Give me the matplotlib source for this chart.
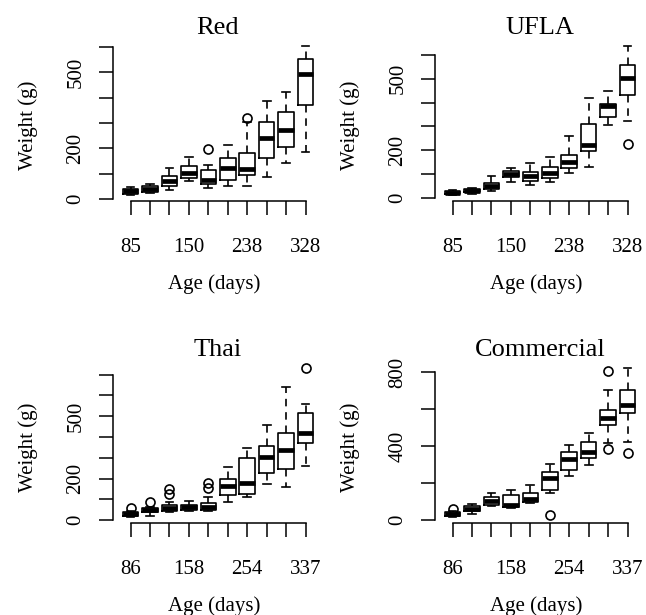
import matplotlib
matplotlib.use("Agg")
import matplotlib.pyplot as plt

plt.rcParams["font.family"] = ["Liberation Serif", "DejaVu Serif"]

# ---------------- data ----------------
titles = ["Red", "UFLA", "Thai", "Commercial"]

ages_red = [85, 106, 127, 150, 180, 209, 238, 268, 298, 328]
ages_ufla = [85, 106, 127, 150, 180, 209, 238, 268, 298, 328]
ages_thai = [86, 110, 134, 158, 190, 222, 254, 282, 310, 337]
ages_comm = [86, 110, 134, 158, 190, 222, 254, 282, 310, 337]

red_lo = [15, 22, 35, 70, 42, 52, 52, 88, 140, 184]
red_q1 = [20, 28, 52, 82, 58, 76, 93, 163, 205, 372]
red_med = [30, 40, 72, 103, 74, 122, 117, 242, 272, 496]
red_q3 = [40, 52, 92, 130, 115, 160, 182, 306, 343, 554]
red_hi = [48, 60, 122, 165, 132, 215, 305, 387, 422, 605]
red_out = [[], [], [], [], [198], [], [320], [], [], []]

ufla_lo = [12, 18, 30, 68, 55, 68, 104, 129, 306, 321]
ufla_q1 = [15, 23, 36, 88, 72, 83, 126, 199, 338, 431]
ufla_med = [22, 30, 48, 100, 93, 105, 152, 223, 386, 505]
ufla_q3 = [28, 37, 62, 112, 110, 128, 182, 312, 395, 557]
ufla_hi = [32, 42, 90, 126, 145, 170, 258, 420, 448, 638]
ufla_out = [[], [], [], [], [], [], [], [], [], [225]]

thai_lo = [15, 21, 37, 43, 42, 85, 110, 175, 158, 260]
thai_q1 = [20, 38, 45, 50, 48, 123, 126, 228, 248, 372]
thai_med = [30, 50, 58, 61, 63, 163, 181, 305, 336, 420]
thai_q3 = [38, 57, 73, 75, 82, 197, 300, 358, 417, 513]
thai_hi = [42, 64, 85, 93, 110, 258, 345, 460, 641, 559]
thai_out = [[57], [85], [128, 152], [], [157, 181], [], [], [], [], [732]]

comm_lo = [15, 30, 74, 65, 90, 143, 235, 295, 415, 423]
comm_q1 = [22, 47, 80, 72, 96, 163, 268, 336, 515, 576]
comm_med = [33, 60, 103, 80, 115, 228, 331, 365, 550, 623]
comm_q3 = [42, 74, 122, 135, 143, 258, 366, 423, 597, 700]
comm_hi = [48, 88, 146, 164, 187, 302, 404, 470, 705, 822]
comm_out = [[61], [], [], [], [], [24], [], [], [386, 807], [360]]

yticks_red = [0, 100, 200, 300, 400, 500, 600]
yticks_ufla = [0, 100, 200, 300, 400, 500, 600]
yticks_thai = [0, 100, 200, 300, 400, 500, 600, 700]
yticks_comm = [0, 200, 400, 600, 800]
ylabels_shown_small = [0, 200, 500]
ylabels_shown_comm = [0, 400, 800]

xlabel_text = "Age (days)"
ylabel_text = "Weight (g)"

# ---------------- figure ----------------
fig = plt.figure(figsize=(6.46, 6.15), dpi=100)

W, H = 646, 615
panels = [
    (titles[0], ages_red, red_lo, red_q1, red_med, red_q3, red_hi, red_out, yticks_red, ylabels_shown_small, (113, 40, 323, 201)),
    (titles[1], ages_ufla, ufla_lo, ufla_q1, ufla_med, ufla_q3, ufla_hi, ufla_out, yticks_ufla, ylabels_shown_small, (435, 40, 645, 201)),
    (titles[2], ages_thai, thai_lo, thai_q1, thai_med, thai_q3, thai_hi, thai_out, yticks_thai, ylabels_shown_small, (113, 362, 323, 523)),
    (titles[3], ages_comm, comm_lo, comm_q1, comm_med, comm_q3, comm_hi, comm_out, yticks_comm, ylabels_shown_comm, (435, 362, 645, 523)),
]

for title, ages, lo, q1, med, q3, hi, out, yt, yshow, (x0, y0, x1, y1) in panels:
    ax = fig.add_axes([x0 / W, 1 - y1 / H, (x1 - x0) / W, (y1 - y0) / H])
    n = len(ages)
    stats = []
    for i in range(n):
        stats.append(dict(whislo=lo[i], q1=q1[i], med=med[i], q3=q3[i],
                          whishi=hi[i], fliers=out[i]))
    ax.bxp(stats, positions=list(range(1, n + 1)), widths=0.8, capwidths=0.4,
           showfliers=True, manage_ticks=False,
           boxprops=dict(color="black", linewidth=1.2),
           whiskerprops=dict(color="black", linewidth=1.2, linestyle=(0, (4.5, 3.5))),
           capprops=dict(color="black", linewidth=1.2),
           medianprops=dict(color="black", linewidth=3.4, solid_capstyle="butt"),
           flierprops=dict(marker="o", markerfacecolor="none", markeredgecolor="black",
                           markersize=6.5, markeredgewidth=1.2))

    allv = lo + hi + [v for f in out for v in f]
    vmin, vmax = min(allv), max(allv)
    rng = vmax - vmin
    ax.set_ylim(vmin - 0.04 * rng, vmax + 0.04 * rng)
    ax.set_xlim(0.5 - 0.04 * n, n + 0.5 + 0.04 * n)

    for s in ["top", "right"]:
        ax.spines[s].set_visible(False)
    ax.spines["left"].set_bounds(yt[0], yt[-1])
    ax.spines["bottom"].set_bounds(1, n)
    ax.spines["left"].set_linewidth(1.1)
    ax.spines["bottom"].set_linewidth(1.1)

    ax.set_xticks(list(range(1, n + 1)))
    ax.set_xticklabels([str(a) if i % 3 == 0 else "" for i, a in enumerate(ages)])
    ax.set_yticks(yt)
    ax.set_yticklabels([str(v) if v in yshow else "" for v in yt])
    ax.tick_params(direction="out", length=10, width=1.1, labelsize=15, colors="black")
    ax.tick_params(axis="x", pad=16.5)
    ax.tick_params(axis="y", labelrotation=90, pad=10)
    for lbl in ax.get_yticklabels():
        lbl.set_va("center")

    ax.set_title(title, fontsize=19, pad=4.5)
    ax.set_xlabel(xlabel_text, fontsize=15)
    ax.set_ylabel(ylabel_text, fontsize=15)
    ax.xaxis.set_label_coords(0.48, -0.457)
    ax.yaxis.set_label_coords(-0.356, 0.47)
    ax.patch.set_visible(False)

fig.savefig("out.png", dpi=100, facecolor="white")
